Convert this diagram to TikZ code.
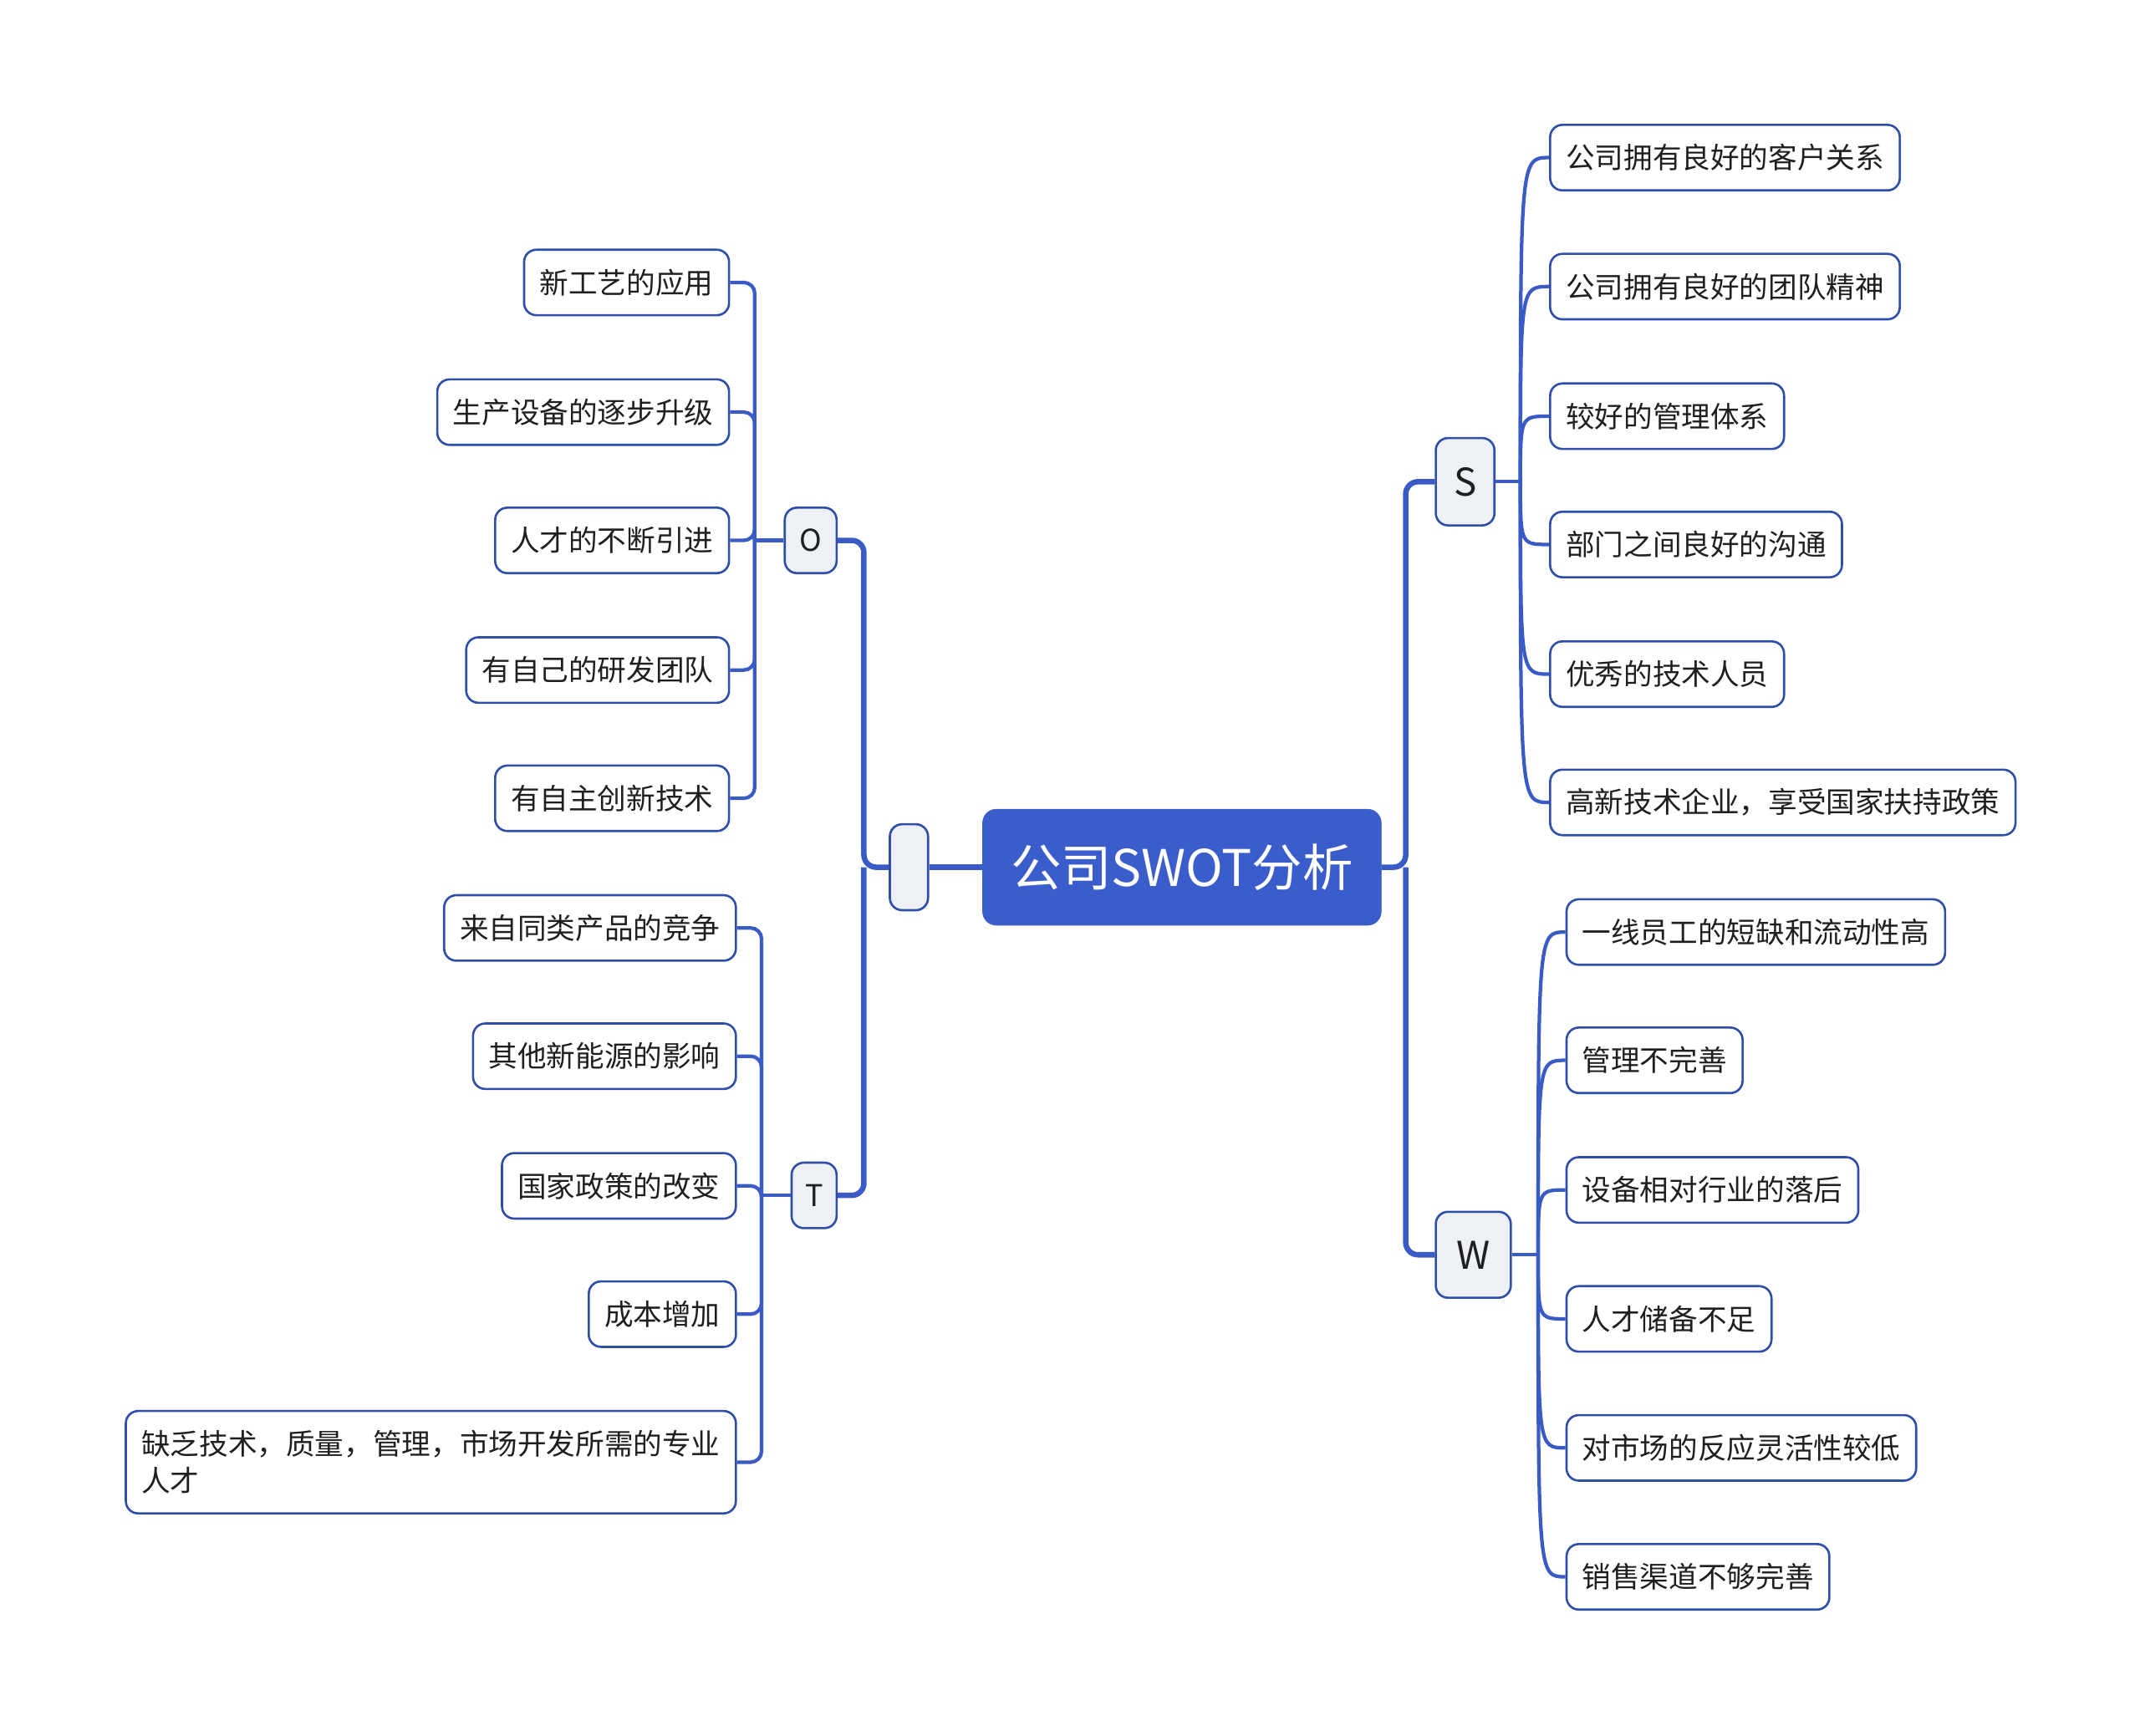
\documentclass[tikz,border=0pt]{standalone}
\usepackage{fontspec}
\setmainfont{Noto Sans CJK SC}
\usetikzlibrary{calc,backgrounds}
\definecolor{lineblue}{HTML}{3A5AC6}
\definecolor{edgeblue}{HTML}{2F4EA8}
\definecolor{rootblue}{HTML}{3B5CCB}
\definecolor{subfill}{HTML}{EDF0F5}
\definecolor{txt}{HTML}{1F1F1F}
\begin{document}
\begin{tikzpicture}[x=1pt,y=-1pt,
 leaf/.style={draw=edgeblue, line width=1.6pt, rounded corners=9pt, fill=white, inner xsep=11.5pt, inner ysep=0pt, minimum height=48pt, font=\fontsize{21.2}{27}\selectfont, text=txt},
 sub/.style={draw=edgeblue, line width=1.6pt, rounded corners=9pt, fill=subfill, inner sep=0pt, text=txt},
 mainline/.style={draw=lineblue, line width=4pt, rounded corners=9pt},
 br/.style={draw=lineblue, line width=2.6pt, rounded corners=8pt},
 cv/.style={draw=lineblue, line width=2.6pt},
]
\useasboundingbox (0,0) rectangle (1568,1272);

\coordinate (rj) at (1030,635.5);
\coordinate (lj) at (633,635.5);
\coordinate (oj) at (553,396);
\coordinate (tj) at (558,876);
\coordinate (sj) at (1114,353);
\coordinate (wj) at (1127,919.5);

% root
\node[draw=rootblue, fill=rootblue, rounded corners=10pt, minimum width=292pt, minimum height=85pt, text=white, font=\fontsize{37}{44}\selectfont, inner sep=0pt] (root) at (866,635.5) {公司SWOT分析};
\node[sub, minimum width=28pt, minimum height=63pt] (mid) at (666,635.5) {};

% branch nodes
\node[sub, minimum width=38pt, minimum height=48pt, font=\fontsize{22}{26}\selectfont] (O) at (594,396) {O};
\node[sub, minimum width=33pt, minimum height=48pt, font=\fontsize{22}{26}\selectfont] (T) at (596.5,876) {T};
\node[sub, minimum width=43pt, minimum height=64pt, font=\fontsize{28}{32}\selectfont] (S) at (1073.5,353) {S};
\node[sub, minimum width=55pt, minimum height=63pt, font=\fontsize{28}{32}\selectfont] (W) at (1079.5,919.5) {W};

% O leaves
\node[leaf, anchor=east] (o1) at (535,207) {新工艺的应用};
\node[leaf, anchor=east] (o2) at (535,302) {生产设备的逐步升级};
\node[leaf, anchor=east] (o3) at (535,396) {人才的不断引进};
\node[leaf, anchor=east] (o4) at (535,491) {有自己的研发团队};
\node[leaf, anchor=east] (o5) at (535,585) {有自主创新技术};

% T leaves
\node[leaf, anchor=east] (t1) at (540,680) {来自同类产品的竞争};
\node[leaf, anchor=east] (t2) at (540,774) {其他新能源的影响};
\node[leaf, anchor=east] (t3) at (540,869) {国家政策的改变};
\node[leaf, anchor=east] (t4) at (540,963) {成本增加};
\node[leaf, anchor=east, align=left, minimum height=75pt] (t5) at (540,1071.5) {缺乏技术，质量，管理，市场开发所需的专业\\人才};

% S leaves
\node[leaf, anchor=west] (s1) at (1135,115.5) {公司拥有良好的客户关系};
\node[leaf, anchor=west] (s2) at (1135,210) {公司拥有良好的团队精神};
\node[leaf, anchor=west] (s3) at (1135,305) {较好的管理体系};
\node[leaf, anchor=west] (s4) at (1135,399) {部门之间良好的沟通};
\node[leaf, anchor=west] (s5) at (1135,494) {优秀的技术人员};
\node[leaf, anchor=west] (s6) at (1135,588) {高新技术企业，享受国家扶持政策};

% W leaves
\node[leaf, anchor=west] (w1) at (1147,683) {一线员工的短缺和流动性高};
\node[leaf, anchor=west] (w2) at (1147,777) {管理不完善};
\node[leaf, anchor=west] (w3) at (1147,872) {设备相对行业的落后};
\node[leaf, anchor=west] (w4) at (1147,966.5) {人才储备不足};
\node[leaf, anchor=west] (w5) at (1147,1061) {对市场的反应灵活性较低};
\node[leaf, anchor=west] (w6) at (1147,1155.5) {销售渠道不够完善};

\begin{scope}[on background layer]
% main connectors
\draw[mainline] (root.east) -- (rj) |- (S.west);
\draw[mainline] (rj) |- (W.west);
\draw[mainline] (root.west) -- (mid.east);
\draw[mainline] (mid.west) -- (lj) |- (O.east);
\draw[mainline] (lj) |- (T.east);

% O and T branches
\draw[br] (O.west) -- (oj);
\foreach \n in {o1,o2,o3,o4,o5} \draw[br] (oj) |- (\n.east);
\draw[br] (T.west) -- (tj);
\foreach \n in {t1,t2,t3,t4,t5} \draw[br] (tj) |- (\n.east);

% S and W branches (curved)
\draw[cv] (S.east) -- (sj);
\foreach \n in {s1,s2,s3,s4,s5,s6} \draw[cv] (sj) .. controls (sj |- \n.west) and (sj |- \n.west) .. (\n.west);
\draw[cv] (W.east) -- (wj);
\foreach \n in {w1,w2,w3,w4,w5,w6} \draw[cv] (wj) .. controls (wj |- \n.west) and (wj |- \n.west) .. (\n.west);
\end{scope}
\end{tikzpicture}
\end{document}
